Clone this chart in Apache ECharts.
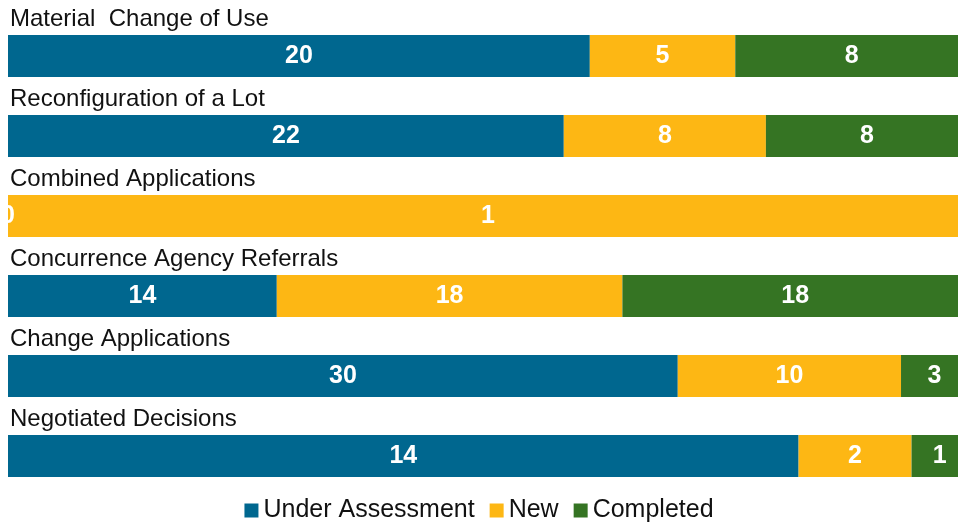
<!DOCTYPE html>
<html>
<head>
<meta charset="utf-8">
<script src="https://cdn.jsdelivr.net/npm/echarts@6/dist/echarts.min.js"></script>
<style>
    html, body { margin: 0; padding: 0; background: #fff; }
    #chart { width: 958px; height: 522px; }
</style>
</head>
<body>
<div id="chart"></div>
<script>
    const categories = ['Material  Change of Use', 'Reconfiguration of a Lot', 'Combined Applications',
        'Concurrence Agency Referrals', 'Change Applications', 'Negotiated Decisions'];
    const underAssessment = [20, 22, 0, 14, 30, 14];
    const newApps = [5, 8, 1, 18, 10, 2];
    const completed = [8, 8, 0, 18, 3, 1];

    const seriesNames = ['Under Assessment', 'New', 'Completed'];
    const seriesColors = ['#00678f', '#fdb714', '#357423'];
    const raw = [underAssessment, newApps, completed];

    // each bar is scaled to 100%
    const totals = categories.map((c, i) => underAssessment[i] + newApps[i] + completed[i]);

    let myChart = echarts.init(document.getElementById('chart'));

    let option = {
        animation: false,
        textStyle: { fontFamily: 'Liberation Sans, Arial, sans-serif' },
        // the bars run a bit past the right edge of the picture
        grid: { left: 8, top: 16, width: 960, height: 480, outerBoundsMode: 'none' },
        legend: {
            top: 493,
            left: 'center',
            icon: 'rect',
            itemWidth: 14,
            itemHeight: 14,
            itemGap: 15,
            textStyle: { fontSize: 25, color: '#111' },
            data: seriesNames
        },
        xAxis: { type: 'value', min: 0, max: 100, show: false },
        yAxis: {
            type: 'category',
            inverse: true,
            data: categories,
            axisLine: { show: false },
            axisTick: { show: false },
            splitLine: { show: false },
            axisLabel: {
                inside: true,
                margin: 2,
                align: 'left',
                verticalAlign: 'bottom',
                padding: [0, 0, 25, 0],
                fontSize: 24,
                color: '#111'
            },
            z: 10
        },
        series: raw.map((vals, k) => ({
            name: seriesNames[k],
            type: 'bar',
            stack: 'total',
            barWidth: 42,
            itemStyle: { color: seriesColors[k] },
            label: {
                show: true,
                position: 'inside',
                color: '#fff',
                fontWeight: 'bold',
                fontSize: 25,
                formatter: p => vals[p.dataIndex]
            },
            data: vals.map((v, i) => v / totals[i] * 100)
        }))
    };

    myChart.setOption(option);
</script>
</body>
</html>
